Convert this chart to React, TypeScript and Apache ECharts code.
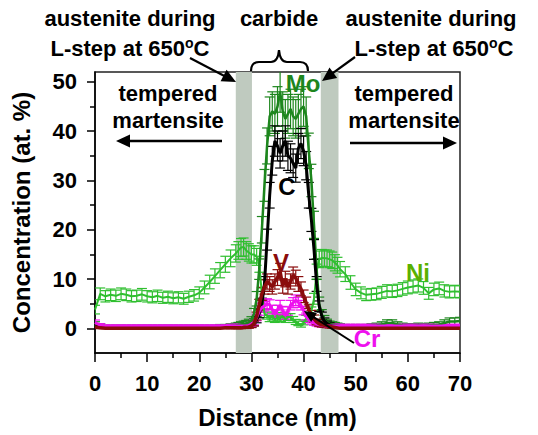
import React, { useEffect, useRef } from "react";
import * as echarts from "echarts";

// ---------------- data ----------------
const distance = [
  0, 1, 2, 3, 4, 5, 6, 7, 8, 9, 10, 11, 12, 13, 14, 15, 16, 17, 18, 19, 20, 21, 22, 23, 24, 25, 26, 27,
  27.5, 28, 28.5, 29, 29.5, 30, 30.5, 31, 31.5, 32, 32.5, 33, 33.5, 34, 34.5, 35, 35.5, 36, 36.5, 37, 37.5, 38, 38.5,
  39, 39.5, 40, 40.5, 41, 41.5, 42, 42.5, 43, 43.5, 44, 44.5, 45, 45.5, 46, 46.5,
  47, 48, 49, 50, 51, 52, 53, 54, 55, 56, 57, 58, 59, 60, 61, 62, 63, 64, 65, 66, 67, 68, 69, 70,
];

const ni = [
  3.8, 7.0, 6.5, 6.8, 6.6, 7.0, 6.8, 6.5, 6.6, 6.9, 6.5, 6.3, 6.6, 6.2, 6.4, 6.1, 6.3, 6.0, 6.4, 6.7, 7.2, 8.3, 9.4, 10.6, 11.8, 13.0, 14.2, 15.2,
  15.8, 16.4, 16.5, 15.8, 15.4, 15.0, 15.0, 14.5, 13.0, 7.0, 3.0, 2.6, 2.0, 2.4, 1.8, 2.2, 2.0, 2.5, 1.8, 2.3, 2.3, 1.8, 1.3,
  1.0, 0.6, 1.2, 2.0, 2.5, 3.5, 6.0, 11.5, 14.0, 14.3, 14.2, 14.2, 14.0, 13.8, 13.3, 12.8,
  12.0, 11.0, 9.3, 7.9, 7.2, 6.8, 6.9, 7.0, 7.3, 7.6, 7.5, 7.7, 8.0, 8.3, 8.5, 8.7, 8.2, 7.1, 7.9, 8.1, 7.6, 7.4, 7.5, 7.4,
];

const mo = [
  0.8, 0.5, 0.3, 0.3, 0.3, 0.3, 0.3, 0.3, 0.3, 0.3, 0.3, 0.3, 0.3, 0.3, 0.3, 0.3, 0.3, 0.3, 0.3, 0.3, 0.3, 0.3, 0.3, 0.3, 0.4, 0.4, 0.5, 0.6,
  0.7, 0.8, 0.9, 1.0, 1.2, 1.6, 3.0, 6.0, 12, 20, 29, 37, 43, 44, 43.5, 45, 48, 44, 42.5, 43.5, 44.5, 43, 42.5,
  43.5, 44.5, 45, 43, 36, 30, 21, 12, 5, 2.8, 1.8, 1.2, 0.9, 0.8, 0.7, 0.6,
  0.5, 0.4, 0.4, 0.4, 0.4, 0.4, 0.5, 0.6, 0.8, 1.1, 1.1, 0.8, 0.6, 0.5, 0.5, 0.6, 0.5, 0.6, 0.7, 0.8, 1.1, 1.4, 1.4, 1.5,
];

const carbon = [
  0.3, 0.3, 0.3, 0.3, 0.3, 0.3, 0.3, 0.3, 0.3, 0.3, 0.3, 0.3, 0.3, 0.3, 0.3, 0.3, 0.3, 0.3, 0.3, 0.3, 0.3, 0.3, 0.3, 0.3, 0.3, 0.3, 0.3, 0.3,
  0.3, 0.3, 0.4, 0.4, 0.5, 0.6, 1.0, 1.8, 3.0, 5.0, 9.0, 18, 27, 34, 38, 37, 35.5, 37, 38, 35, 34.5, 33.5, 32.5,
  36.5, 37.5, 36, 33, 27, 22, 16, 9, 4.5, 2.5, 1.5, 1.0, 0.7, 0.5, 0.4, 0.3,
  0.3, 0.3, 0.3, 0.3, 0.3, 0.3, 0.3, 0.3, 0.3, 0.3, 0.3, 0.3, 0.3, 0.3, 0.3, 0.3, 0.3, 0.3, 0.3, 0.3, 0.3, 0.3, 0.3, 0.3,
];

const vanadium = [
  0.3, 0.1, 0.0, 0.0, 0.0, 0.0, 0.0, 0.0, 0.0, 0.0, 0.0, 0.0, 0.0, 0.0, 0.0, 0.0, 0.0, 0.0, 0.0, 0.0, 0.0, 0.0, 0.0, 0.0, 0.0, 0.1, 0.1, 0.1,
  0.1, 0.1, 0.2, 0.2, 0.3, 0.5, 1.0, 2.5, 4.8, 7.0, 8.4, 9.5, 9.0, 8.4, 9.5, 10.3, 11.5, 8.6, 10.0, 8.4, 9.5, 10.8, 10.2,
  9.0, 8.0, 6.5, 5.2, 3.8, 2.8, 2.0, 1.3, 0.9, 0.7, 0.6, 0.5, 0.4, 0.3, 0.2, 0.1,
  0.0, 0.0, 0.0, 0.0, 0.0, 0.0, 0.0, 0.0, 0.0, 0.0, 0.0, 0.0, 0.0, 0.0, 0.0, 0.0, 0.0, 0.0, 0.0, 0.0, 0.0, 0.0, 0.0, 0.0,
];

const chromium = [
  1.2, 0.6, 0.4, 0.4, 0.4, 0.4, 0.4, 0.4, 0.4, 0.4, 0.4, 0.4, 0.4, 0.4, 0.4, 0.4, 0.4, 0.4, 0.4, 0.4, 0.4, 0.4, 0.4, 0.4, 0.4, 0.4, 0.5, 0.5,
  0.5, 0.5, 0.5, 0.5, 0.6, 0.8, 1.2, 2.2, 3.5, 4.2, 4.5, 5.0, 4.8, 3.8, 3.0, 3.8, 4.7, 3.6, 2.6, 3.5, 4.7, 5.2, 5.7,
  5.3, 4.7, 3.6, 2.4, 1.8, 1.4, 1.1, 0.9, 0.7, 0.6, 0.5, 0.5, 0.5, 0.5, 0.5, 0.5,
  0.5, 0.5, 0.5, 0.5, 0.5, 0.5, 0.5, 0.5, 0.5, 0.5, 0.5, 0.5, 0.5, 0.5, 0.5, 0.5, 0.5, 0.5, 0.5, 0.5, 0.5, 0.5, 0.5, 0.5,
];

// shaded austenite bands (nm)
const bands = [
  [27.0, 30.1],
  [43.3, 46.7],
];

const xTicks = [0, 10, 20, 30, 40, 50, 60, 70];
const yMajorTicks = [0, 10, 20, 30, 40, 50];
const yMinorTicks = [5, 15, 25, 35, 45];

// ---------------- styling ----------------
const FONT = '"Liberation Sans", Arial, sans-serif';

const elements = [
  { name: "Ni", values: ni, color: "#2fbf2f", width: 2, errK: 0.45 },
  { name: "Mo", values: mo, color: "#1d861d", width: 2.5, errK: 0.6 },
  { name: "C", values: carbon, color: "#000000", width: 3, errK: 0.5 },
  { name: "Cr", values: chromium, color: "#ee11ee", width: 3, errK: 0.45 },
  { name: "V", values: vanadium, color: "#8a0c0c", width: 3.5, errK: 0.5 },
];

function arrowEls(x1: number, y1: number, x2: number, y2: number, len = 13, half = 6, w = 2.2) {
  const dx = x2 - x1;
  const dy = y2 - y1;
  const L = Math.hypot(dx, dy);
  const ux = dx / L;
  const uy = dy / L;
  const bx = x2 - ux * len;
  const by = y2 - uy * len;
  return [
    {
      type: "line",
      z: 100,
      shape: { x1, y1, x2: bx + ux * 2, y2: by + uy * 2 },
      style: { stroke: "#000", lineWidth: w },
    },
    {
      type: "polygon",
      z: 100,
      shape: {
        points: [
          [x2, y2],
          [bx - uy * half, by + ux * half],
          [bx + uy * half, by - ux * half],
        ],
      },
      style: { fill: "#000" },
    },
  ];
}

function txt(text: string, x: number, y: number, size: number, color: string, extra: any = {}) {
  return {
    type: "text",
    z: 100,
    x,
    y,
    style: {
      text,
      fill: color,
      fontSize: size,
      fontWeight: "bold",
      fontFamily: FONT,
      align: "center",
      verticalAlign: "middle",
      ...extra,
    },
  };
}

echarts.graphic.registerShape(
  "brace",
  echarts.graphic.extendPath(
    "M251 71 Q251 62 259 62 L271 62 Q278 62 279 50 Q280 62 287 62 L300 62 Q308 62 308 71",
    {}
  )
);

export default function App() {
  const ref = useRef<HTMLDivElement>(null);

  useEffect(() => {
    if (!ref.current) return;
    const chart = echarts.init(ref.current, null, { renderer: "svg" });

    const lineSeries: any[] = [];
    const errSeries: any[] = [];
    elements.forEach((el, idx) => {
      const pts = distance.map((d, i) => [d, el.values[i]]);
      const errPts = distance.map((d, i) => [d, el.values[i], el.errK * Math.sqrt(Math.max(el.values[i], 0))]);
      errSeries.push({
        type: "custom",
        name: el.name + " error",
        data: errPts,
        encode: { x: 0, y: 1 },
        clip: true,
        z: 2,
        silent: true,
        renderItem: (params: any, api: any) => {
          const x = api.value(0);
          const y = api.value(1);
          const e = api.value(2);
          const top = api.coord([x, y + e]);
          const bot = api.coord([x, y - e]);
          const hw = 5;
          const st = { stroke: el.color, lineWidth: 1.2 };
          return {
            type: "group",
            children: [
              { type: "line", shape: { x1: top[0], y1: top[1], x2: bot[0], y2: bot[1] }, style: st },
              { type: "line", shape: { x1: top[0] - hw, y1: top[1], x2: top[0] + hw, y2: top[1] }, style: st },
              { type: "line", shape: { x1: bot[0] - hw, y1: bot[1], x2: bot[0] + hw, y2: bot[1] }, style: st },
            ],
          };
        },
      });
      const s: any = {
        type: "line",
        name: el.name,
        data: pts,
        showSymbol: false,
        symbol: "none",
        z: 3,
        lineStyle: { color: el.color, width: el.width },
        itemStyle: { color: el.color },
      };
      if (idx === 0) {
        s.markArea = {
          silent: true,
          itemStyle: { color: "#bfcabf" },
          data: bands.map((b) => [{ xAxis: b[0] }, { xAxis: b[1] }]),
        };
      }
      lineSeries.push(s);
    });

    const series: any[] = [];
    elements.forEach((_, i) => {
      series.push(errSeries[i]);
      series.push(lineSeries[i]);
    });

    const sup = { s: { fontSize: 14, fontWeight: "bold", fontFamily: FONT, fill: "#000", verticalAlign: "top", padding: [0, 0, 10, 0] } };

    const graphics: any[] = [
      txt("austenite during", 130, 18, 22, "#000"),
      txt("L-step at 650{s|o}C", 130, 48, 22, "#000", { rich: sup }),
      txt("carbide", 279, 18, 22, "#000"),
      txt("austenite during", 431, 18, 22, "#000"),
      txt("L-step at 650{s|o}C", 434, 48, 22, "#000", { rich: sup }),
      { type: "brace", z: 100, x: 0, y: 0, style: { stroke: "#000", lineWidth: 2.2, fill: null } },
      ...arrowEls(190, 58, 236, 82, 14, 6.5),
      ...arrowEls(355, 57, 322, 81, 14, 6.5),
      txt("tempered\nmartensite", 168, 107, 22, "#000", { lineHeight: 27 }),
      txt("tempered\nmartensite", 404, 107, 22, "#000", { lineHeight: 27 }),
      ...arrowEls(222, 141, 116, 141, 14, 6.5, 2.5),
      ...arrowEls(350, 143, 457, 143, 14, 6.5, 2.5),
      txt("Mo", 303, 83, 24, "#1d861d"),
      txt("C", 287, 186, 24, "#000"),
      txt("V", 281, 262, 24, "#8a0c0c"),
      txt("Ni", 418, 272, 24, "#5ab000"),
      txt("Cr", 367, 338, 24, "#ee11ee"),
      ...arrowEls(354, 343, 304, 311, 12, 5.5, 2),
    ];

    chart.setOption({
      animation: false,
      backgroundColor: "#ffffff",
      grid: {
        left: 95,
        right: 78,
        top: 72,
        bottom: 82,
        show: true,
        borderColor: "#222",
        borderWidth: 1.5,
        backgroundColor: "transparent",
      },
      xAxis: {
        type: "value",
        min: 0,
        max: 70,
        interval: 10,
        name: "Distance (nm)",
        nameLocation: "middle",
        nameGap: 52,
        nameTextStyle: { fontSize: 24, fontWeight: "bold", fontFamily: FONT, color: "#000" },
        axisLine: { show: true, onZero: false, lineStyle: { color: "#000", width: 1.5 } },
        axisTick: { show: true, length: 9, lineStyle: { color: "#000", width: 1.5 }, customValues: xTicks },
        minorTick: { show: true, splitNumber: 2, length: 5, lineStyle: { color: "#000", width: 1.5 } },
        axisLabel: {
          margin: 19,
          fontSize: 22,
          fontWeight: "bold",
          fontFamily: FONT,
          color: "#000",
          customValues: xTicks,
        },
        splitLine: { show: false },
        minorSplitLine: { show: false },
      },
      yAxis: [
        {
          type: "value",
          min: -5,
          max: 52,
          name: "Concentration (at. %)",
          nameLocation: "middle",
          nameGap: 62,
          nameTextStyle: { fontSize: 24, fontWeight: "bold", fontFamily: FONT, color: "#000" },
          axisLine: { show: true, onZero: false, lineStyle: { color: "#000", width: 1.5 } },
          axisTick: { show: true, length: 8, lineStyle: { color: "#000", width: 1.5 }, customValues: yMajorTicks },
          axisLabel: {
            margin: 18,
            fontSize: 22,
            fontWeight: "bold",
            fontFamily: FONT,
            color: "#000",
            customValues: yMajorTicks,
          },
          splitLine: { show: false },
        },
        {
          type: "value",
          min: -5,
          max: 52,
          position: "left",
          axisLine: { show: false },
          axisTick: { show: true, length: 5, lineStyle: { color: "#000", width: 1.5 }, customValues: yMinorTicks },
          axisLabel: { show: false, customValues: yMinorTicks },
          splitLine: { show: false },
        },
      ],
      series,
      graphic: graphics,
    });

    return () => {
      chart.dispose();
    };
  }, []);

  return <div ref={ref} style={{ position: "absolute", left: 0, top: 0, width: 538, height: 435 }} />;
}
